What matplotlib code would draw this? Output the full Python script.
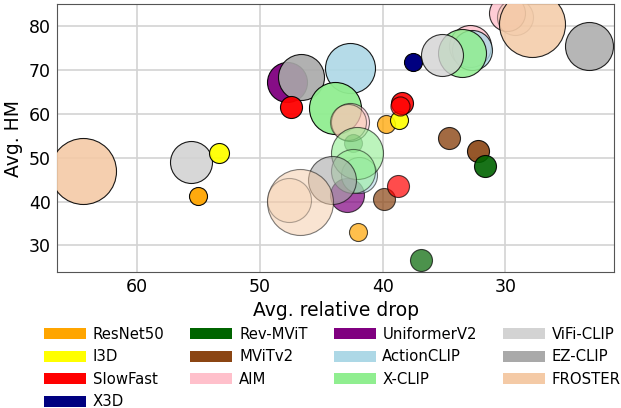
import matplotlib
matplotlib.use("Agg")
import matplotlib.pyplot as plt
from matplotlib.patches import Patch

methods = ["ResNet50", "I3D", "SlowFast", "X3D", "Rev-MViT", "MViTv2", "AIM",
           "UniformerV2", "ActionCLIP", "X-CLIP", "ViFi-CLIP", "EZ-CLIP", "FROSTER"]
colors = {
    "ResNet50": "orange", "I3D": "yellow", "SlowFast": "red", "X3D": "navy",
    "Rev-MViT": "darkgreen", "MViTv2": "saddlebrown", "AIM": "pink",
    "UniformerV2": "purple", "ActionCLIP": "lightblue", "X-CLIP": "lightgreen",
    "ViFi-CLIP": "lightgray", "EZ-CLIP": "darkgray", "FROSTER": "#f4caa6",
}

# one entry per bubble (drawn in this order)
point_method = [
    "FROSTER", "ViFi-CLIP", "I3D", "ResNet50", "UniformerV2", "EZ-CLIP", "SlowFast",
    "ActionCLIP", "X-CLIP", "AIM", "FROSTER", "ResNet50", "I3D", "SlowFast", "SlowFast",
    "X3D", "AIM", "ActionCLIP", "X-CLIP", "ViFi-CLIP", "AIM", "FROSTER", "FROSTER",
    "EZ-CLIP", "MViTv2", "MViTv2", "Rev-MViT", "Rev-MViT", "ResNet50", "MViTv2",
    "SlowFast", "UniformerV2", "ActionCLIP", "Rev-MViT", "X-CLIP", "X-CLIP", "EZ-CLIP",
    "FROSTER", "FROSTER",
]
drop = [
    64.4, 55.6, 53.35, 55.05, 47.8, 46.65, 47.5,
    42.65, 43.9, 42.65, 42.8, 39.75, 38.7, 38.4, 38.6,
    37.55, 32.9, 32.75, 33.5, 35.2, 29.9, 29.25, 27.8,
    23.2, 34.6, 32.2, 31.7, 36.9, 42.0, 39.9,
    38.75, 42.9, 41.9, 42.45, 42.05, 42.45, 44.15,
    46.7, 47.65,
]
hm = [
    46.95, 49.0, 51.05, 41.25, 67.2, 68.4, 61.5,
    70.4, 61.3, 58.1, 58.1, 57.7, 58.6, 62.4, 61.8,
    71.8, 75.4, 74.5, 73.8, 73.4, 83.0, 82.05, 80.45,
    75.4, 54.5, 51.5, 48.1, 26.65, 33.0, 40.6,
    43.5, 41.5, 46.0, 53.3, 51.05, 46.95, 44.9,
    39.9, 40.3,
]
bubble = [
    2258, 914, 207, 168, 829, 1097, 251,
    1296, 1402, 749, 672, 168, 168, 251, 190,
    168, 914, 829, 1194, 914, 672, 672, 2258,
    1194, 251, 251, 251, 251, 168, 251,
    251, 599, 672, 168, 1402, 1004, 1194,
    2258, 1004,
]
# transparency level of each bubble
level = [
    0.9, 0.9, 0.95, 0.95, 0.95, 0.9, 0.95,
    0.9, 0.95, 0.6, 0.45, 0.75, 0.9, 0.9, 0.7,
    1.0, 0.8, 0.8, 0.85, 0.8, 0.8, 0.4, 0.85,
    0.85, 0.8, 0.9, 0.9, 0.7, 0.7, 0.7,
    0.7, 0.7, 0.55, 0.35, 0.6, 0.5, 0.6,
    0.5, 0.3,
]

fig = plt.figure(figsize=(6.21, 4.08), dpi=100)
ax = fig.add_axes([0.092, 0.333, 0.897, 0.656])

for m, x, y, s, a in zip(point_method, drop, hm, bubble, level):
    ax.scatter(x, y, s=s, color=colors[m], edgecolors="black", linewidths=0.8,
               alpha=a, zorder=3)

ax.set_xlim(66.5, 21.15)
ax.set_ylim(23.9, 84.95)
ax.set_xticks([60, 50, 40, 30])
ax.set_yticks([30, 40, 50, 60, 70, 80])
ax.tick_params(labelsize=12.5, length=0, pad=4.5)
ax.set_xlabel("Avg. relative drop", fontsize=13.5, labelpad=3)
ax.set_ylabel("Avg. HM", fontsize=13.5)
ax.grid(True, color="#d3d3d3", linewidth=1.2, zorder=0)
ax.set_axisbelow(True)
for sp in ax.spines.values():
    sp.set_color("#555555")

handles = [Patch(facecolor=colors[m], label=m) for m in methods]
fig.legend(handles=handles, loc="upper left", bbox_to_anchor=(0.061, 0.213),
           borderaxespad=0, ncol=4, frameon=False, fontsize=10.7,
           handlelength=2.83, handleheight=0.75, columnspacing=1.75,
           labelspacing=0.5, handletextpad=0.45)

fig.savefig("out.png", dpi=100)
